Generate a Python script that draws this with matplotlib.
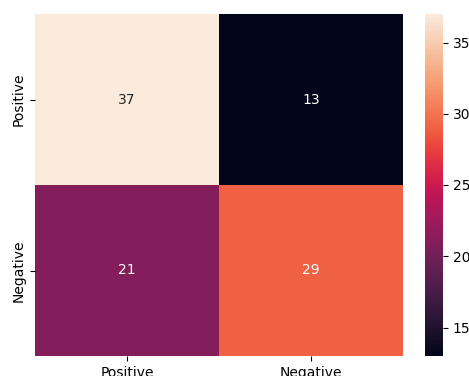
import matplotlib
matplotlib.use("Agg")
import matplotlib.pyplot as plt
import seaborn as sns
import numpy as np

labels = ["Positive", "Negative"]
values = [[37, 13], [21, 29]]

fig = plt.figure(figsize=(4.69, 3.76), dpi=100)
ax = fig.add_axes([35/469, 1-356/376, (403-35)/469, (356-14)/376])
cax = fig.add_axes([425/469, 1-356/376, 18/469, (356-14)/376])
sns.heatmap(np.array(values), annot=True, fmt="d", cmap="rocket",
            xticklabels=labels, yticklabels=labels, ax=ax, cbar_ax=cax)
cax.set_yticks([15, 20, 25, 30, 35])
fig.savefig("out.png", dpi=100)
